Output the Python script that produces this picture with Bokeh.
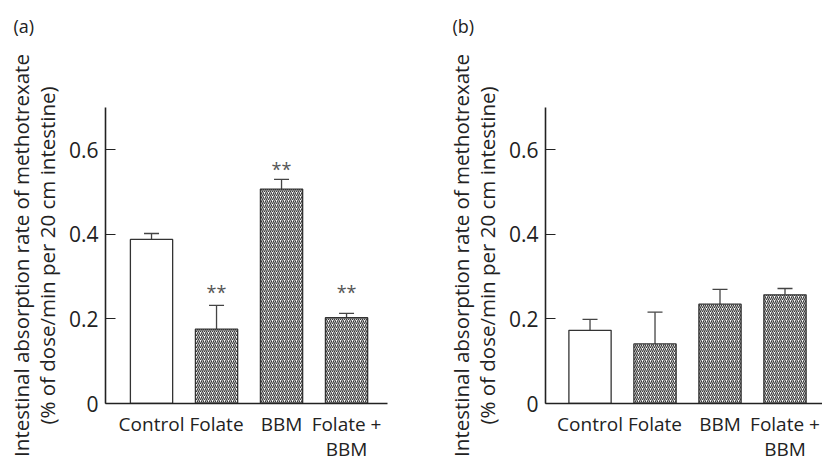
import numpy as np
from bokeh.plotting import figure
from bokeh.models import FixedTicker, Whisker, TeeHead, ColumnDataSource, Range1d
from bokeh.layouts import row, column
from bokeh.embed import file_html
from bokeh.resources import INLINE
from bokeh.core.properties import value

# ---- data ----
categories = ["Control", "Folate", "BBM", "Folate +\nBBM"]
mean_a = [0.388, 0.176, 0.507, 0.203]
sem_a = [0.014, 0.056, 0.023, 0.010]
stars_a = ["", "**", "**", "**"]
star_y_a = [0.0, 0.275, 0.567, 0.275]
mean_b = [0.173, 0.141, 0.235, 0.257]
sem_b = [0.026, 0.075, 0.035, 0.015]
stars_b = ["", "", "", ""]
star_y_b = [0.0, 0.0, 0.0, 0.0]
y_ticks = [0, 0.2, 0.4, 0.6]
y_tick_labels = ["0", "0.2", "0.4", "0.6"]
y_label = "Intestinal absorption rate of methotrexate\n(% of dose/min per 20 cm intestine)"
panel_labels = ["(a)", "(b)"]

FONT = "Open Sans"
DARK = "#222222"
HEADER_H = 40


def make_panel(means, sems, stars, star_y, width, left, right, x0, x1):
    p = figure(width=width, height=465 - HEADER_H, output_backend="svg", toolbar_location=None,
               x_range=Range1d(x0, x1), y_range=Range1d(0, 0.7),
               min_border_left=left, min_border_right=right,
               min_border_top=107 - HEADER_H, min_border_bottom=61)
    p.outline_line_color = None
    p.grid.visible = False
    p.background_fill_color = "white"
    p.border_fill_color = "white"

    xs = list(range(len(categories)))
    hatch = [" " if i == 0 else "/" for i in xs]
    src = ColumnDataSource(dict(x=xs, top=means, upper=[m + s for m, s in zip(means, sems)],
                                hatch=hatch))
    p.vbar(x="x", top="top", width=0.65, source=src, fill_color="white",
           line_color="#333333", line_width=1.3, hatch_pattern="hatch",
           hatch_color="#3a3a3a", hatch_scale=4.0, hatch_weight=1.2)
    w = Whisker(base="x", lower="top", upper="upper", source=src, dimension="height",
                line_color="#444444", line_width=1.3,
                upper_head=TeeHead(size=15, line_color="#444444", line_width=1.3),
                lower_head=None)
    p.add_layout(w)

    sx = [x for x, s in zip(xs, stars) if s]
    sy = [y for y, s in zip(star_y, stars) if s]
    st = [s for s in stars if s]
    if st:
        p.text(x=sx, y=sy, text=st, text_align="center", text_baseline="middle",
               text_font=value(FONT), text_font_size="18px", text_color="#555555",
               y_offset=5)

    ax = p.yaxis[0]
    ax.ticker = FixedTicker(ticks=y_ticks)
    ax.major_label_overrides = {t: l for t, l in zip(y_ticks, y_tick_labels)}
    ax.major_tick_in = 10
    ax.major_tick_out = 0
    ax.minor_tick_line_color = None
    ax.axis_line_width = 1.6
    ax.axis_line_color = DARK
    ax.major_tick_line_color = DARK
    ax.major_tick_line_width = 1.2
    ax.major_label_standoff = 7
    ax.major_label_text_font = FONT
    ax.major_label_text_font_size = "21px"
    ax.major_label_text_color = DARK
    ax.axis_label = y_label
    ax.axis_label_text_font = FONT
    ax.axis_label_text_font_size = "20.5px"
    ax.axis_label_text_font_style = "normal"
    ax.axis_label_text_color = DARK
    ax.axis_label_text_line_height = 0.92
    ax.axis_label_standoff = 5

    bx = p.xaxis[0]
    bx.ticker = FixedTicker(ticks=xs)
    bx.major_label_overrides = {i: c for i, c in zip(xs, categories)}
    bx.major_tick_line_color = None
    bx.major_tick_in = 0
    bx.major_tick_out = 0
    bx.minor_tick_line_color = None
    bx.minor_tick_out = 0
    bx.axis_line_width = 1.6
    bx.axis_line_color = DARK
    bx.major_label_standoff = 7
    bx.major_label_text_font = FONT
    bx.major_label_text_font_size = "19px"
    bx.major_label_text_color = DARK
    bx.major_label_text_line_height = 0.99
    return p


# header strip carrying the panel tags
head = figure(width=822, height=HEADER_H, output_backend="svg", toolbar_location=None,
              x_range=Range1d(0, 822), y_range=Range1d(0, HEADER_H),
              min_border=0, outline_line_color=None)
head.axis.visible = False
head.grid.visible = False
head.text(x=[13, 452], y=[15, 15], text=panel_labels, text_align="left",
          text_baseline="middle", text_font=value(FONT), text_font_size="18px",
          text_color=DARK)

pa = make_panel(mean_a, sem_a, stars_a, star_y_a, 410, 105, 23, -0.708, 3.63)
pb = make_panel(mean_b, sem_b, stars_b, star_y_b, 412, 135, 0, -0.685, 3.577)

layout = column(head, row(pa, pb))
open("out.html", "w").write(file_html(layout, INLINE))
